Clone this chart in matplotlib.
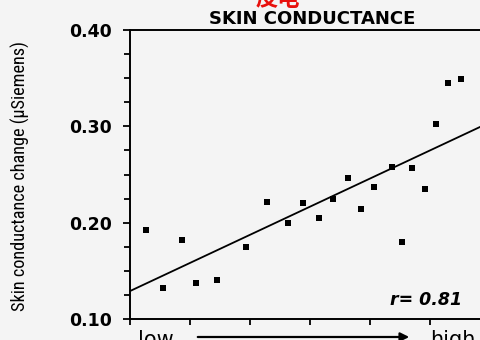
import matplotlib
matplotlib.use("Agg")
import matplotlib.pyplot as plt
from matplotlib import font_manager
from matplotlib.patches import FancyArrowPatch
from matplotlib.ticker import MultipleLocator

# Arousal level (arbitrary units, low -> high) and skin conductance change
arousal = [0.27, 0.55, 0.87, 1.10, 1.45, 1.93, 2.28, 2.63, 2.88, 3.15, 3.38,
           3.63, 3.85, 4.07, 4.37, 4.53, 4.70, 4.92, 5.10, 5.30, 5.52]
scr_change = [0.192, 0.132, 0.182, 0.137, 0.140, 0.175, 0.221, 0.200, 0.220,
              0.205, 0.225, 0.246, 0.214, 0.237, 0.258, 0.180, 0.257, 0.235,
              0.302, 0.345, 0.349]

# Regression line
fit_intercept = 0.129
fit_slope = 0.0292
r_value = 0.81

title = "SKIN CONDUCTANCE"
ylabel = "Skin conductance change (\u03bcSiemens)"
y_ticks = [0.10, 0.20, 0.30, 0.40]
y_ticklabels = ["0.10", "0.20", "0.30", "0.40"]


def pick_family(candidates):
    names = {f.name for f in font_manager.fontManager.ttflist}
    for c in candidates:
        if c in names:
            return c
    return "DejaVu Sans"


W, H = 481, 340
fig = plt.figure(figsize=(W / 100, H / 100), dpi=100)
bg = "#f4f4f4"
fig.patch.set_facecolor(bg)

left_px, right_px, top_px, bottom_px = 130, 486, 30, 319
ax = fig.add_axes([left_px / W, 1 - bottom_px / H,
                   (right_px - left_px) / W, (bottom_px - top_px) / H])
ax.set_facecolor(bg)
xmax = (right_px - left_px) / 60.0
ax.set_xlim(0, xmax)
ax.set_ylim(0.10, 0.40)

xs = [0, xmax]
ax.plot(xs, [fit_intercept + fit_slope * x for x in xs], color="black",
        lw=1.3, solid_capstyle="butt")
ax.plot(arousal, scr_change, linestyle="none", marker="s", markersize=4.3,
        color="black", markeredgewidth=0)

for side in ["left", "bottom", "top"]:
    ax.spines[side].set_linewidth(1.4)
    ax.spines[side].set_color("black")
ax.spines["right"].set_visible(False)

ax.set_yticks(y_ticks)
ax.set_yticklabels(y_ticklabels, fontsize=12.5, fontweight="bold",
                   family="DejaVu Sans")
ax.yaxis.set_minor_locator(MultipleLocator(0.025))
ax.set_xticks(range(0, 6))
ax.set_xticklabels([])
ax.tick_params(axis="both", which="both", direction="out", width=1.3,
               color="black")
ax.tick_params(axis="y", which="major", length=5, pad=8)
ax.tick_params(axis="y", which="minor", length=4)
ax.tick_params(axis="x", which="major", length=4)

fig.text(462 / W, 1 - 300 / H, f"r= {r_value:.2f}", ha="right",
         va="center", fontsize=12.5, fontstyle="italic", fontweight="bold",
         family="DejaVu Sans")

fig.text(312 / W, 1 - 19 / H, title, ha="center", va="center",
         fontsize=13, family="DejaVu Sans", fontweight="bold")

# Red caption above the title, running off the top edge
fig.text(278 / W, 1 - 0 / H, "\u76ae\u7535", ha="center", va="center",
         fontsize=16, color="#e8100c", fontweight="bold",
         family=["Noto Sans CJK SC", "DejaVu Sans"])

# Y-axis label in a narrow face, sized to span the axis height
narrow = pick_family(["Liberation Sans Narrow", "DejaVu Sans Condensed",
                      "Roboto Condensed", "Open Sans Condensed"])
ylab = fig.text(20 / W, 1 - 176 / H, ylabel, rotation=90, ha="center",
                va="center", fontsize=12, family=narrow)
fig.canvas.draw()
span = ylab.get_window_extent(fig.canvas.get_renderer()).height
ylab.set_fontsize(12 * 270.0 / span)

# Axis direction caption: low ---> high
fig.text(138 / W, 1 - 330 / H, "low", ha="left", va="top", fontsize=15,
         family="DejaVu Sans")
fig.text(430 / W, 1 - 330 / H, "high", ha="left", va="top", fontsize=15,
         family="DejaVu Sans")
fig.add_artist(FancyArrowPatch(
    (195 / W, 1 - 337 / H), (412 / W, 1 - 337 / H),
    transform=fig.transFigure, arrowstyle="-|>", mutation_scale=13,
    lw=1.6, color="black"))

fig.savefig("out.png", dpi=100, facecolor=bg)
